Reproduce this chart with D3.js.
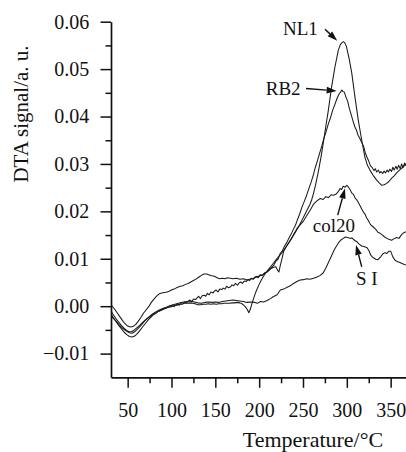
<!DOCTYPE html>
<html><head><meta charset="utf-8">
<script src="https://cdn.jsdelivr.net/npm/d3@7"></script>
<style>
html,body{margin:0;padding:0;background:#fff;}
svg{display:block;}
text{font-family:"Liberation Serif","Times New Roman",serif;fill:#111;}
</style></head><body>
<svg id="chart" width="406" height="452"></svg>
<script>
// ---- tick values ----
const xTicks=[50,100,150,200,250,300,350];
const xMinorTicks=[75,125,175,225,275,325];
const yTicks=[-0.01,0,0.01,0.02,0.03,0.04,0.05,0.06];
const yMinorTicks=[-0.005,0.005,0.015,0.025,0.035,0.045,0.055];

// ---- series: [temperature °C, DTA signal a.u.] ----
const nl1=[[31.5,-0.0018],[34,-0.0025],[37,-0.0033],[40,-0.0041],[43,-0.0048],[46,-0.0055],[49,-0.006],[52,-0.0064],[55,-0.0065],[58,-0.0063],[61,-0.0058],[64,-0.0051],[67,-0.0044],[70,-0.0037],[73,-0.003],[76,-0.0024],[79,-0.0019],[82,-0.0015],[85,-0.0011],[88,-0.0008],[91,-0.0005],[94,-0.0004],[97,-0.0002],[100,-0.0001],[103,0.0001],[106,0.0002],[109,0.0004],[112,0.0004],[115,0.0006],[118,0.0006],[121,0.0007],[124,0.0006],[127,0.0005],[130,0.0003],[133,0.0003],[136,0.0004],[139,0.0004],[142,0.0005],[145,0.0004],[148,0.0005],[151,0.0004],[154,0.0005],[157,0.0005],[160,0.0006],[163,0.0006],[166,0.0006],[169,0.0007],[172,0.0007],[175,0.0008],[178,0.0007],[180.5,0.0005],[182.5,0.0002],[184.5,-0.0002],[186.5,-0.0007],[188.2,-0.0014],[190,-0.0006],[192,0.0007],[194,0.0018],[196,0.0029],[198,0.0038],[200,0.0046],[202.5,0.0055],[205,0.0063],[207.5,0.007],[210,0.0076],[213,0.0083],[216,0.009],[219,0.0097],[222,0.0104],[225,0.0111],[228,0.0118],[231,0.0126],[234,0.0134],[237,0.0143],[240,0.0152],[243,0.0161],[246,0.0171],[249,0.0182],[252,0.0193],[255,0.0204],[258,0.0215],[260,0.0225],[262,0.0238],[264.5,0.0257],[267.5,0.0284],[270.5,0.0314],[273.2,0.0345],[276,0.0379],[278.9,0.0413],[282.7,0.0463],[286.5,0.0505],[290.3,0.054],[292.5,0.0551],[294.5,0.0556],[296,0.0558],[297.5,0.0556],[299.5,0.0548],[302.5,0.0523],[305.6,0.0492],[309.3,0.0441],[313.1,0.0392],[317,0.035],[320.7,0.0314],[323.5,0.0297],[326.4,0.0287],[330,0.0276],[334.1,0.0266],[337,0.026],[339.8,0.0255],[342.5,0.0256],[345.5,0.0259],[348,0.0263],[351.2,0.027],[354,0.0275],[356.9,0.0281],[360,0.0287],[364.4,0.0294],[367.5,0.03]];

const rb2=[[31.5,-0.0012],[34,-0.0019],[37,-0.0027],[40,-0.0034],[43,-0.0041],[46,-0.0047],[49,-0.0051],[51.5,-0.0054],[54,-0.0054],[56.5,-0.0052],[59,-0.0048],[61.5,-0.0044],[64,-0.004],[66.5,-0.0035],[69,-0.0031],[71.5,-0.0027],[74,-0.0024],[76.5,-0.0021],[79,-0.0017],[81.5,-0.0015],[84,-0.0012],[86.5,-0.001],[89,-0.0008],[91.5,-0.0006],[94,-0.0004],[96.5,-0.0002],[99,0.0],[101,0.0002],[103,-0.0001],[105,0.0003],[107.5,0.0004],[109,0.0002],[111,0.0007],[113.5,0.0006],[115,0.0009],[117,0.0007],[119.5,0.0011],[121,0.0013],[123,0.0009],[125,0.0015],[127.5,0.0014],[129,0.0017],[131,0.0021],[133,0.0016],[135,0.0022],[137.5,0.0023],[139,0.0021],[141,0.0027],[143,0.0024],[145,0.003],[147.5,0.0028],[149,0.0032],[151,0.0034],[153,0.003],[155,0.0036],[157.5,0.0035],[159,0.0038],[161,0.0036],[163,0.0042],[165,0.0039],[167.5,0.0041],[169,0.0045],[171,0.0043],[173,0.0048],[175.5,0.0044],[177,0.0049],[179,0.0051],[181,0.0048],[183,0.0053],[185.5,0.0052],[187,0.0056],[189,0.0054],[191,0.0059],[193.5,0.0057],[195,0.0061],[197,0.0063],[199,0.006],[201,0.0066],[203.5,0.0065],[205,0.0068],[207,0.0071],[209,0.0072],[211.5,0.0076],[214,0.0081],[216.5,0.0086],[219,0.0095],[221.5,0.0099],[224,0.0111],[226.5,0.0117],[229,0.0127],[231.5,0.0134],[234,0.0144],[236.5,0.0152],[239,0.0162],[241.5,0.0171],[244,0.0184],[246.5,0.0196],[249,0.021],[251.5,0.0221],[254,0.0233],[256.5,0.0247],[259,0.026],[261.5,0.0275],[264,0.0292],[266.5,0.0307],[269,0.0323],[271.5,0.0338],[274,0.0355],[276.5,0.0369],[279,0.0385],[281.5,0.0398],[284,0.0414],[286.5,0.0426],[289,0.0439],[291,0.0447],[293,0.0452],[294.3,0.0456],[295.5,0.0453],[297,0.0452],[299,0.0441],[301,0.0432],[303,0.0416],[305,0.0404],[307,0.0391],[309,0.0379],[311,0.0371],[313,0.036],[315,0.0353],[317,0.0345],[319,0.0338],[321,0.0324],[323,0.0314],[325,0.0306],[327,0.0296],[329,0.0292],[331,0.0286],[332.5,0.029],[334,0.0283],[336,0.0287],[337.5,0.0281],[339,0.0284],[341,0.028],[342.5,0.0285],[344,0.0281],[346,0.0287],[347.5,0.0283],[349,0.0289],[351,0.0284],[352.5,0.0293],[354,0.0287],[356,0.0295],[357.5,0.0289],[359,0.0297],[361,0.029],[362.5,0.03],[364,0.0292],[366,0.0302],[367.5,0.0296]];

const col20=[[31.5,0.0002],[35,-0.0006],[38,-0.0014],[41,-0.0022],[44,-0.003],[47,-0.0037],[50,-0.0042],[53,-0.0044],[56,-0.0043],[59,-0.0039],[62,-0.0032],[65,-0.0024],[68,-0.0015],[71,-0.0008],[74,-0.0001],[77,0.0008],[80,0.0015],[83,0.0021],[86,0.0026],[89,0.0028],[92,0.0029],[95,0.003],[98,0.0032],[101,0.0035],[104,0.0037],[107,0.004],[110,0.0042],[113,0.0043],[116,0.0046],[119,0.0048],[122,0.0051],[125,0.0054],[128,0.0057],[131,0.0061],[134,0.0065],[137,0.0068],[140,0.0068],[143,0.0066],[146,0.0064],[149,0.0063],[152,0.006],[155,0.0058],[158,0.0059],[161,0.0058],[164,0.006],[167,0.0059],[170,0.0058],[174,0.0059],[178,0.0057],[182,0.0058],[186,0.0055],[189,0.0057],[192,0.0058],[195,0.006],[198,0.0062],[201,0.0064],[204,0.0066],[207,0.007],[210,0.0074],[213,0.0079],[216.6,0.0082],[219,0.0083],[221,0.0076],[222.5,0.0072],[224,0.0085],[226,0.01],[228,0.0116],[231,0.0126],[235.6,0.0139],[239,0.015],[243.2,0.0164],[247,0.0172],[250.7,0.018],[254,0.019],[258.3,0.0203],[262,0.0215],[265.9,0.0222],[269.7,0.0227],[273,0.0225],[276,0.0231],[279,0.0229],[282,0.0235],[284.8,0.0234],[287.5,0.0236],[290,0.0241],[292.4,0.0248],[294,0.0246],[295.8,0.0253],[298,0.0251],[300,0.0255],[301.5,0.0252],[303.7,0.0246],[305.5,0.0239],[307.5,0.0236],[309.5,0.0228],[311.4,0.0224],[313,0.0219],[315.1,0.0212],[317,0.0205],[319,0.0198],[320.8,0.0194],[322.7,0.0186],[325,0.0179],[327,0.0172],[330.2,0.0167],[333,0.0162],[335.5,0.0156],[337.8,0.0154],[340,0.0151],[342.5,0.0147],[345.5,0.0143],[348,0.0141],[351.1,0.0139],[353.5,0.0142],[356.8,0.0145],[359.5,0.0143],[362.5,0.0151],[365,0.0155],[367.4,0.0157]];

const sI=[[31.5,-0.0022],[36,-0.003],[40,-0.0039],[44,-0.0046],[48,-0.0052],[52,-0.0056],[55,-0.0057],[58,-0.0054],[62,-0.0047],[66,-0.0039],[70,-0.003],[74,-0.0023],[78,-0.0017],[82,-0.0012],[86,-0.0008],[90,-0.0005],[94,-0.0002],[98,0.0001],[102,0.0003],[106,0.0005],[110,0.0007],[114,0.0009],[118,0.001],[122,0.0011],[126,0.0009],[130,0.0007],[134,0.0006],[138,0.0008],[142,0.0009],[146,0.0008],[150,0.0009],[154,0.0008],[158,0.001],[162,0.0011],[166,0.0012],[170,0.0013],[174,0.0012],[178,0.0011],[182,0.001],[186,0.0008],[190.1,0.0009],[195,0.0008],[198,0.0006],[201.5,0.001],[205,0.0009],[209,0.0012],[212.9,0.0016],[216,0.002],[220.5,0.0024],[224.2,0.0034],[228,0.0036],[232,0.004],[235.6,0.0043],[239.3,0.0048],[243,0.0052],[246.9,0.0055],[250.7,0.0056],[254,0.0058],[258,0.0057],[262,0.0059],[265.5,0.0061],[269.7,0.0065],[273,0.007],[276,0.008],[279,0.0092],[281,0.01],[284,0.0112],[286,0.012],[288.6,0.0128],[291,0.0135],[293.5,0.014],[296,0.0143],[298.5,0.0146],[301,0.0145],[303.7,0.0143],[306,0.0144],[308,0.014],[311.4,0.0136],[314,0.0131],[317,0.0127],[319.5,0.0126],[322.7,0.0124],[325,0.0118],[327.5,0.0107],[330.2,0.0102],[333,0.0099],[335.5,0.0098],[338.5,0.0104],[341,0.011],[343.5,0.0113],[345.5,0.0111],[348,0.0116],[350,0.0116],[352.5,0.0104],[355,0.0097],[357.5,0.0094],[360.5,0.0092],[363,0.009],[365.5,0.0088],[367.4,0.0087]];

const seriesList=[nl1,rb2,col20,sI];

// ---- annotations (data units): label anchor, arrow tail, arrow head ----
const labelNames=["NL1","RB2","col20","S I"];
const labelAt=[[227.2,0.0572],[207.5,0.0445],[261.1,0.0157],[310.5,0.0044]];
const arrowFrom=[[275.1,0.0584],[253.4,0.0459],[289.6,0.0192],[317,0.0083]];
const arrowTo=[[289.1,0.056],[288.4,0.0454],[297.9,0.0248],[310.5,0.0129]];

// ---- drawing ----
const svg=d3.select('#chart');
const x=d3.scaleLinear().domain([31,367.5]).range([111,406]);
const y=d3.scaleLinear().domain([-0.015,0.06]).range([377.3,21.7]);
const ink='#111';

// minor ticks
svg.append('g').attr('transform',`translate(0,${y(-0.015)})`)
  .call(d3.axisBottom(x).tickValues(xMinorTicks).tickSize(6).tickFormat(''))
  .call(g=>g.select('.domain').remove());
svg.append('g').attr('transform',`translate(${x(31)},0)`)
  .call(d3.axisLeft(y).tickValues(yMinorTicks).tickSize(5.5).tickFormat(''))
  .call(g=>g.select('.domain').remove());

// major axes
const gx=svg.append('g').attr('transform',`translate(0,${y(-0.015)})`)
  .call(d3.axisBottom(x).tickValues(xTicks).tickSize(10.5).tickSizeOuter(0).tickFormat(d3.format('d')));
gx.selectAll('text').attr('y',39.4).attr('dy',0).style('font-size','20px');
const gy=svg.append('g').attr('transform',`translate(${x(31)},0)`)
  .call(d3.axisLeft(y).tickValues(yTicks).tickSize(10.5).tickSizeOuter(0).tickPadding(11.2).tickFormat(d3.format('.2f')));
gy.selectAll('text').style('font-size','20px');
svg.selectAll('.tick line').attr('stroke',ink).attr('stroke-width',1.5);
svg.selectAll('.domain').attr('stroke',ink).attr('stroke-width',1.7);
svg.selectAll('.tick text').attr('fill',ink).attr('font-family','"Liberation Serif",serif').style('font-family','"Liberation Serif",serif');

// curves
const line=d3.line().x(d=>x(d[0])).y(d=>y(d[1]));
svg.append('g').selectAll('path').data(seriesList).join('path')
  .attr('d',line).attr('fill','none').attr('stroke','#1a1a1a').attr('stroke-width',1.05)
  .attr('stroke-linejoin','round');

// annotations
const ann=svg.append('g');
labelNames.forEach((name,i)=>{
  ann.append('text').attr('x',x(labelAt[i][0])).attr('y',y(labelAt[i][1]))
    .style('font-size','19px').text(name);
  const x1=x(arrowFrom[i][0]),y1=y(arrowFrom[i][1]),x2=x(arrowTo[i][0]),y2=y(arrowTo[i][1]);
  const a=Math.atan2(y2-y1,x2-x1),L=10,hw=3.3;
  const bx=x2-L*Math.cos(a),by=y2-L*Math.sin(a);
  ann.append('line').attr('x1',x1).attr('y1',y1).attr('x2',bx).attr('y2',by)
    .attr('stroke',ink).attr('stroke-width',1.4);
  ann.append('path').attr('d',`M${x2},${y2}L${bx+hw*Math.sin(a)},${by-hw*Math.cos(a)}L${bx-hw*Math.sin(a)},${by+hw*Math.cos(a)}Z`)
    .attr('fill',ink);
});

// axis titles
svg.append('text').attr('x',313).attr('y',447).attr('text-anchor','middle')
  .style('font-size','22px').text('Temperature/°C');
svg.append('text').attr('transform','translate(28,114) rotate(-90)').attr('text-anchor','middle')
  .style('font-size','21px').text('DTA signal/a. u.');
</script>
</body></html>
